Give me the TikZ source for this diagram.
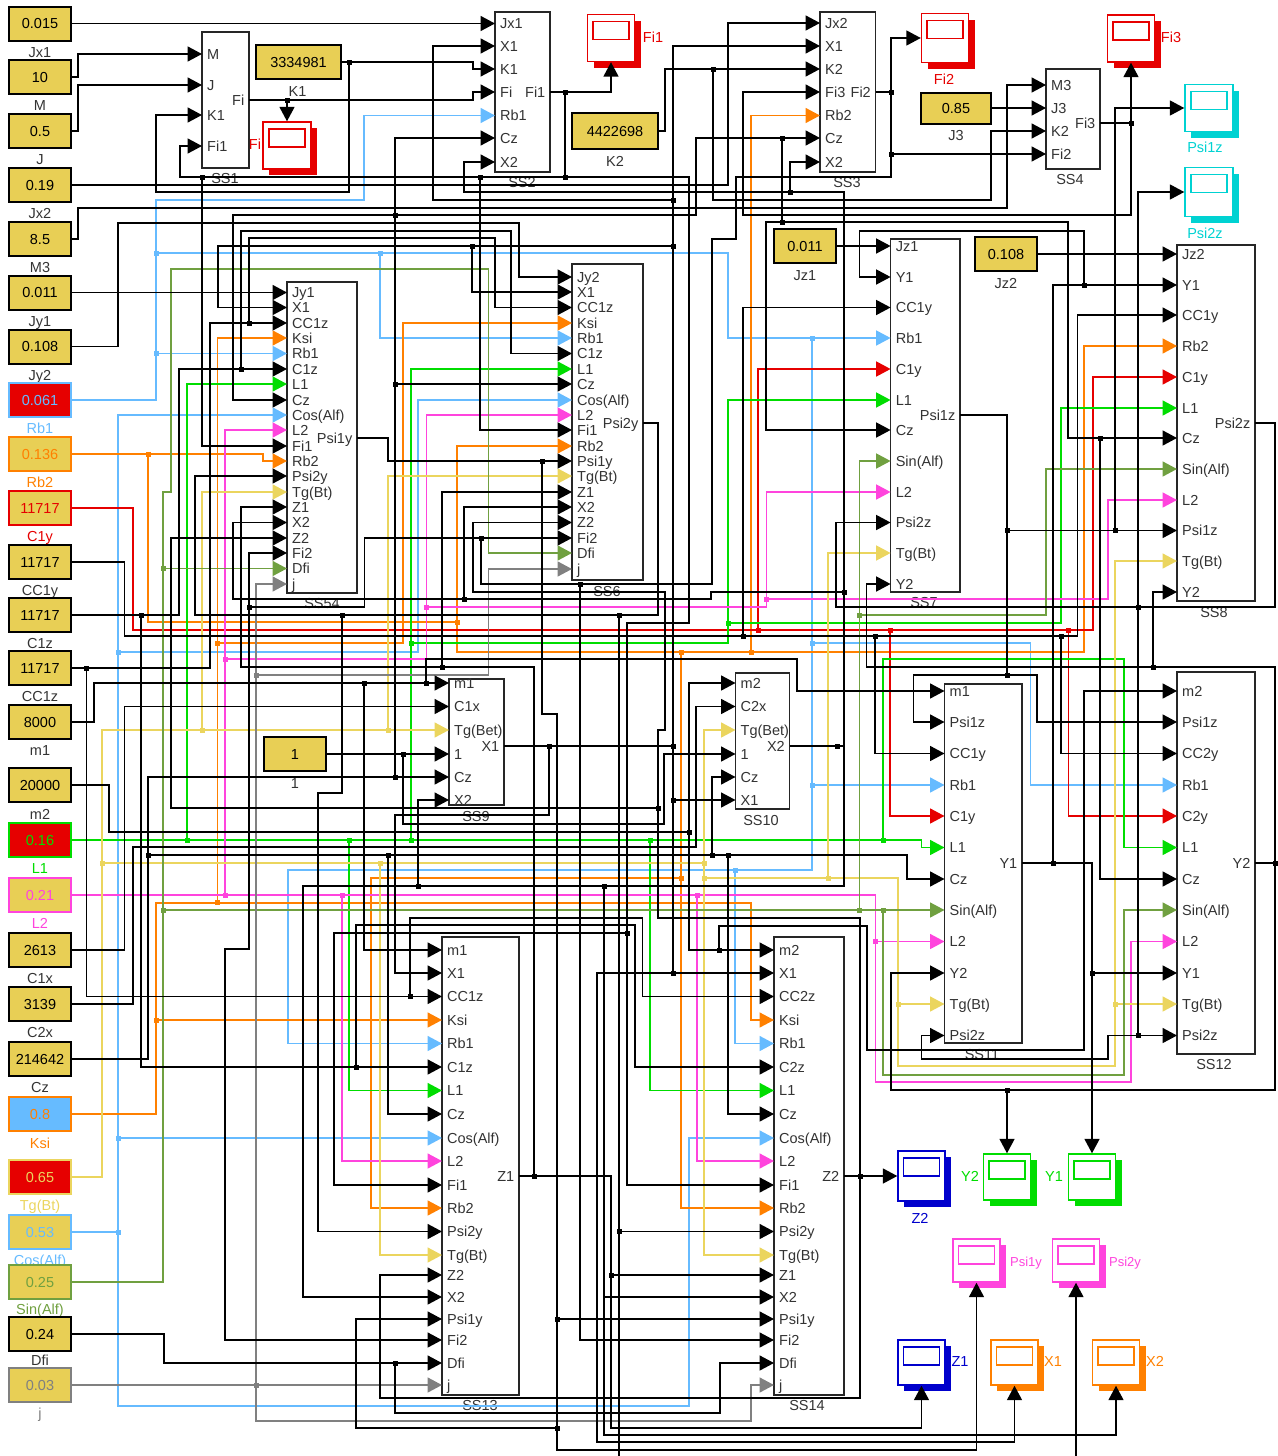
\documentclass[tikz,border=0pt]{standalone}
\usepackage{fontspec}
\setmainfont{Liberation Sans}
\usepackage{xcolor}
\usepackage{tikz}
\usetikzlibrary{arrows.meta,positioning,shadows,calc}
\definecolor{kfill}{HTML}{E8CF55}
\definecolor{kred}{HTML}{E60000}
\definecolor{kblue}{HTML}{66BBFF}
\definecolor{korange}{HTML}{FF8000}
\definecolor{kgreen}{HTML}{00DD00}
\definecolor{kmag}{HTML}{FF44DD}
\definecolor{kolive}{HTML}{70A040}
\definecolor{kgray}{HTML}{808080}
\definecolor{kyel}{HTML}{EBD55E}
\definecolor{kcyan}{HTML}{00D2D2}
\definecolor{kdblue}{HTML}{0000CC}
\tikzset{
    konst/.style={
        rectangle,
        draw=#1,
        fill=kfill,
        line width=2,
        inner sep=0,
        minimum width=62,
        minimum height=34,
        text height=10,
        text depth=0
    },
    konst/.default=black,
    kname/.style={inner sep=0, text height=10, text depth=3, text=#1},
    kname/.default=black!80,
    bloco/.style={rectangle, draw=black!85, line width=1.7, fill=white, inner sep=0},
    portin/.style={anchor=west, inner xsep=5, inner ysep=0, text height=10, text depth=0, text=black!80},
    portout/.style={anchor=east, inner xsep=4.5, inner ysep=0, text height=10, text depth=0, text=black!80},
    monitor/.style={
        rectangle,
        draw=#1,
        fill=white,
        line width=1.4,
        inner sep=0,
        minimum width=47,
        minimum height=47,
        drop shadow={shadow xshift=6pt, shadow yshift=-6pt, fill=#1, opacity=1},
        path picture={\draw[#1, line width=1.4] ($(path picture bounding box.north)+(-18,7)$) rectangle +(36,18);}
    },
    mname/.style={inner sep=0, text height=10, text depth=3, text=#1},
    link/.style={draw=#1, line width=1.7, -{Triangle[length=14.5pt,width=15pt]}},
    link/.default=black,
    tie/.style={draw=#1, line width=1.7},
    tie/.default=black,
    dot/.style={rectangle, fill=#1, inner sep=0, minimum size=5},
    dot/.default=black
}

\begin{document}
\begin{tikzpicture}[
        x=1pt, y=-1pt,
        every node/.style={font=\fontsize{14.5}{16}\selectfont}
    ]
    \useasboundingbox (0,0) rectangle (1277,1456);

    % constants down the left side
    \node[konst] (kJx1) at (40,23.5) {0.015};
    \node[kname, below=5.5pt of kJx1] (nJx1) {Jx1};
    \node[konst] (kM) at (40,77) {10};
    \node[kname, below=5.5pt of kM] (nM) {M};
    \node[konst] (kJ) at (40,131) {0.5};
    \node[kname, below=5.5pt of kJ] (nJ) {J};
    \node[konst] (kJx2) at (40,185) {0.19};
    \node[kname, below=5.5pt of kJx2] (nJx2) {Jx2};
    \node[konst] (kM3) at (40,239) {8.5};
    \node[kname, below=5.5pt of kM3] (nM3) {M3};
    \node[konst] (kJy1) at (40,292.5) {0.011};
    \node[kname, below=5.5pt of kJy1] (nJy1) {Jy1};
    \node[konst] (kJy2) at (40,346.5) {0.108};
    \node[kname, below=5.5pt of kJy2] (nJy2) {Jy2};
    \node[konst=kblue, fill=kred, text=kblue] (kRb1) at (40,400) {0.061};
    \node[kname=kblue, below=5.5pt of kRb1] (nRb1) {Rb1};
    \node[konst=korange, text=korange] (kRb2) at (40,454) {0.136};
    \node[kname=korange, below=5.5pt of kRb2] (nRb2) {Rb2};
    \node[konst=kred, text=kred] (kC1y) at (40,508) {11717};
    \node[kname=kred, below=5.5pt of kC1y] (nC1y) {C1y};
    \node[konst] (kCC1y) at (40,562) {11717};
    \node[kname, below=5.5pt of kCC1y] (nCC1y) {CC1y};
    \node[konst] (kC1z) at (40,615) {11717};
    \node[kname, below=5.5pt of kC1z] (nC1z) {C1z};
    \node[konst] (kCC1z) at (40,668) {11717};
    \node[kname, below=5.5pt of kCC1z] (nCC1z) {CC1z};
    \node[konst] (km1) at (40,722) {8000};
    \node[kname, below=5.5pt of km1] (nm1) {m1};
    \node[konst] (km2) at (40,785) {20000};
    \node[kname, below=6.5pt of km2] (nm2) {m2};
    \node[konst=kgreen, fill=kred, text=kgreen] (kL1) at (40,840) {0.16};
    \node[kname=kgreen, below=5.5pt of kL1] (nL1) {L1};
    \node[konst=kmag, text=kmag] (kL2) at (40,895) {0.21};
    \node[kname=kmag, below=5.5pt of kL2] (nL2) {L2};
    \node[konst] (kC1x) at (40,950) {2613};
    \node[kname, below=5.5pt of kC1x] (nC1x) {C1x};
    \node[konst] (kC2x) at (40,1004) {3139};
    \node[kname, below=5.5pt of kC2x] (nC2x) {C2x};
    \node[konst] (kCz) at (40,1059) {214642};
    \node[kname, below=5.5pt of kCz] (nCz) {Cz};
    \node[konst=korange, fill=kblue, text=korange] (kKsi) at (40,1114) {0.8};
    \node[kname=korange, below=6.5pt of kKsi] (nKsi) {Ksi};
    \node[konst=kyel, fill=kred, text=kyel] (kTg) at (40,1177) {0.65};
    \node[kname=kyel, below=5.5pt of kTg] (nTg) {Tg(Bt)};
    \node[konst=kblue, text=kblue] (kCos) at (40,1232) {0.53};
    \node[kname=kblue, below=5.5pt of kCos] (nCos) {Cos(Alf)};
    \node[konst=kolive, text=kolive] (kSin) at (40,1282) {0.25};
    \node[kname=kolive, below=4.5pt of kSin] (nSin) {Sin(Alf)};
    \node[konst] (kDfi) at (40,1334) {0.24};
    \node[kname, below=3.5pt of kDfi] (nDfi) {Dfi};
    \node[konst=kgray, text=kgray] (kj) at (40,1385) {0.03};
    \node[kname=kgray, below=5.5pt of kj] (nj) {j};

    % constants among the blocks
    \node[konst, minimum width=85] (vK1) at (298.5,62) {3334981};
    \node[kname, below=6pt of vK1, xshift=-1pt] (nK1) {K1};
    \node[konst, minimum width=86, minimum height=36] (vK2) at (615,131) {4422698};
    \node[kname, below=6pt of vK2] (nK2) {K2};
    \node[konst, minimum width=70, minimum height=31] (vJ3) at (956,108) {0.85};
    \node[kname, below=6pt of vJ3] (nJ3) {J3};
    \node[konst] (vJz1) at (805,246) {0.011};
    \node[kname, below=6pt of vJz1] (nJz1) {Jz1};
    \node[konst] (vJz2) at (1006,254) {0.108};
    \node[kname, below=6pt of vJz2] (nJz2) {Jz2};
    \node[konst] (vOne) at (295,754) {1};
    \node[kname, below=6pt of vOne] (nOne) {1};

    % blocks
    \node[bloco, minimum width=47, minimum height=136] (ss1) at (225.5,100) {};
    \node[kname] (nss1) at (225,180) {SS1};
    \node[bloco, minimum width=55, minimum height=160] (ss2) at (522.5,92) {};
    \node[kname] (nss2) at (522,184) {SS2};
    \node[bloco, minimum width=55.5, minimum height=160] (ss3) at (847.7,92) {};
    \node[kname] (nss3) at (847,184) {SS3};
    \node[bloco, minimum width=54, minimum height=100] (ss4) at (1073,119) {};
    \node[kname] (nss4) at (1070,181) {SS4};
    \node[bloco, minimum width=70, minimum height=311] (ss54) at (322,437.5) {};
    \node[kname] (nss54) at (322,605) {SS54};
    \node[bloco, minimum width=71, minimum height=316] (ss6) at (607.5,422) {};
    \node[kname] (nss6) at (607,593) {SS6};
    \node[bloco, minimum width=69.4, minimum height=353] (ss7) at (925.3,415.5) {};
    \node[kname] (nss7) at (924,604) {SS7};
    \node[bloco, minimum width=78, minimum height=356] (ss8) at (1216,423) {};
    \node[kname] (nss8) at (1214,614) {SS8};
    \node[bloco, minimum width=55, minimum height=126] (ss9) at (476.5,742) {};
    \node[kname] (nss9) at (476,818) {SS9};
    \node[bloco, minimum width=54, minimum height=136] (ss10) at (762.5,741) {};
    \node[kname] (nss10) at (761,822) {SS10};
    \node[bloco, minimum width=77.5, minimum height=359] (ss11) at (983.25,863.5) {};
    \node[kname] (nss11) at (982,1056) {SS11};
    \node[bloco, minimum width=78, minimum height=382] (ss12) at (1216,863) {};
    \node[kname] (nss12) at (1214,1066) {SS12};
    \node[bloco, minimum width=77, minimum height=458] (ss13) at (480.5,1166) {};
    \node[kname] (nss13) at (480,1407) {SS13};
    \node[bloco, minimum width=70, minimum height=458] (ss14) at (809,1166) {};
    \node[kname] (nss14) at (807,1407) {SS14};

    % ports of SS1 to SS4
    \node[portin] (ss1M) at (202,54) {M};
    \node[portin] (ss1J) at (202,85) {J};
    \node[portin] (ss1K1) at (202,115) {K1};
    \node[portin] (ss1Fi1) at (202,146) {Fi1};
    \node[portout] (ss1Fi) at (249,100) {Fi};
    \node[portin] (ss2Jx1) at (495,23.5) {Jx1};
    \node[portin] (ss2X1) at (495,46) {X1};
    \node[portin] (ss2K1) at (495,69) {K1};
    \node[portin] (ss2Fi) at (495,92) {Fi};
    \node[portin] (ss2Rb1) at (495,115.5) {Rb1};
    \node[portin] (ss2Cz) at (495,138) {Cz};
    \node[portin] (ss2X2) at (495,162) {X2};
    \node[portout] (ss2Fi1) at (550,92) {Fi1};
    \node[portin] (ss3Jx2) at (820,23) {Jx2};
    \node[portin] (ss3X1) at (820,46) {X1};
    \node[portin] (ss3K2) at (820,69) {K2};
    \node[portin] (ss3Fi3) at (820,92) {Fi3};
    \node[portin] (ss3Rb2) at (820,115.5) {Rb2};
    \node[portin] (ss3Cz) at (820,138) {Cz};
    \node[portin] (ss3X2) at (820,162) {X2};
    \node[portout] (ss3Fi2) at (875.5,92) {Fi2};
    \node[portin] (ss4M3) at (1046,85) {M3};
    \node[portin] (ss4J3) at (1046,108) {J3};
    \node[portin] (ss4K2) at (1046,131) {K2};
    \node[portin] (ss4Fi2) at (1046,154) {Fi2};
    \node[portout] (ss4Fi3) at (1100,123) {Fi3};

    % ports of SS54
    \node[portin] (ss54Jy1) at (287,292.5) {Jy1};
    \node[portin] (ss54X1) at (287,307.5) {X1};
    \node[portin] (ss54CC1z) at (287,323) {CC1z};
    \node[portin] (ss54Ksi) at (287,338) {Ksi};
    \node[portin] (ss54Rb1) at (287,353.5) {Rb1};
    \node[portin] (ss54C1z) at (287,369) {C1z};
    \node[portin] (ss54L1) at (287,384) {L1};
    \node[portin] (ss54Cz) at (287,400) {Cz};
    \node[portin] (ss54Cos) at (287,415) {Cos(Alf)};
    \node[portin] (ss54L2) at (287,430) {L2};
    \node[portin] (ss54Fi1) at (287,446) {Fi1};
    \node[portin] (ss54Rb2) at (287,461) {Rb2};
    \node[portin] (ss54Psi2y) at (287,476) {Psi2y};
    \node[portin] (ss54Tg) at (287,492) {Tg(Bt)};
    \node[portin] (ss54Z1) at (287,507) {Z1};
    \node[portin] (ss54X2) at (287,522.5) {X2};
    \node[portin] (ss54Z2) at (287,538) {Z2};
    \node[portin] (ss54Fi2) at (287,553) {Fi2};
    \node[portin] (ss54Dfi) at (287,568.5) {Dfi};
    \node[portin] (ss54j) at (287,584) {j};
    \node[portout] (ss54Psi1y) at (357,438) {Psi1y};

    % ports of SS6
    \node[portin] (ss6Jy2) at (572,277) {Jy2};
    \node[portin] (ss6X1) at (572,292) {X1};
    \node[portin] (ss6CC1z) at (572,307.5) {CC1z};
    \node[portin] (ss6Ksi) at (572,323) {Ksi};
    \node[portin] (ss6Rb1) at (572,338) {Rb1};
    \node[portin] (ss6C1z) at (572,353.5) {C1z};
    \node[portin] (ss6L1) at (572,369) {L1};
    \node[portin] (ss6Cz) at (572,384) {Cz};
    \node[portin] (ss6Cos) at (572,400) {Cos(Alf)};
    \node[portin] (ss6L2) at (572,415) {L2};
    \node[portin] (ss6Fi1) at (572,430) {Fi1};
    \node[portin] (ss6Rb2) at (572,446) {Rb2};
    \node[portin] (ss6Psi1y) at (572,461) {Psi1y};
    \node[portin] (ss6Tg) at (572,476) {Tg(Bt)};
    \node[portin] (ss6Z1) at (572,492) {Z1};
    \node[portin] (ss6X2) at (572,507) {X2};
    \node[portin] (ss6Z2) at (572,522.5) {Z2};
    \node[portin] (ss6Fi2) at (572,538) {Fi2};
    \node[portin] (ss6Dfi) at (572,553) {Dfi};
    \node[portin] (ss6j) at (572,569) {j};
    \node[portout] (ss6Psi2y) at (643,423) {Psi2y};

    % ports of SS7 and SS8
    \node[portin] (ss7Jz1) at (890.6,246) {Jz1};
    \node[portin] (ss7Y1) at (890.6,277) {Y1};
    \node[portin] (ss7CC1y) at (890.6,307.5) {CC1y};
    \node[portin] (ss7Rb1) at (890.6,338) {Rb1};
    \node[portin] (ss7C1y) at (890.6,369) {C1y};
    \node[portin] (ss7L1) at (890.6,400) {L1};
    \node[portin] (ss7Cz) at (890.6,430) {Cz};
    \node[portin] (ss7Sin) at (890.6,461) {Sin(Alf)};
    \node[portin] (ss7L2) at (890.6,492) {L2};
    \node[portin] (ss7Psi2z) at (890.6,522.5) {Psi2z};
    \node[portin] (ss7Tg) at (890.6,553) {Tg(Bt)};
    \node[portin] (ss7Y2) at (890.6,584) {Y2};
    \node[portout] (ss7Psi1z) at (960,415) {Psi1z};
    \node[portin] (ss8Jz2) at (1177,254) {Jz2};
    \node[portin] (ss8Y1) at (1177,285) {Y1};
    \node[portin] (ss8CC1y) at (1177,315) {CC1y};
    \node[portin] (ss8Rb2) at (1177,346) {Rb2};
    \node[portin] (ss8C1y) at (1177,377) {C1y};
    \node[portin] (ss8L1) at (1177,408) {L1};
    \node[portin] (ss8Cz) at (1177,438) {Cz};
    \node[portin] (ss8Sin) at (1177,469) {Sin(Alf)};
    \node[portin] (ss8L2) at (1177,500) {L2};
    \node[portin] (ss8Psi1z) at (1177,530.5) {Psi1z};
    \node[portin] (ss8Tg) at (1177,561) {Tg(Bt)};
    \node[portin] (ss8Y2) at (1177,592) {Y2};
    \node[portout] (ss8Psi2z) at (1255,423) {Psi2z};

    % ports of SS9 and SS10
    \node[portin] (ss9m1) at (449,683) {m1};
    \node[portin] (ss9C1x) at (449,706.5) {C1x};
    \node[portin] (ss9Tg) at (449,730) {Tg(Bet)};
    \node[portin] (ss9One) at (449,754) {1};
    \node[portin] (ss9Cz) at (449,777) {Cz};
    \node[portin] (ss9X2) at (449,800) {X2};
    \node[portout] (ss9X1) at (504,746) {X1};
    \node[portin] (ss10m2) at (735.5,683) {m2};
    \node[portin] (ss10C2x) at (735.5,706.5) {C2x};
    \node[portin] (ss10Tg) at (735.5,730) {Tg(Bet)};
    \node[portin] (ss10One) at (735.5,754) {1};
    \node[portin] (ss10Cz) at (735.5,777) {Cz};
    \node[portin] (ss10X1) at (735.5,800) {X1};
    \node[portout] (ss10X2) at (789.5,746) {X2};

    % ports of SS11 and SS12
    \node[portin] (ss11m1) at (944.5,691) {m1};
    \node[portin] (ss11Psi1z) at (944.5,722) {Psi1z};
    \node[portin] (ss11CC1y) at (944.5,753.5) {CC1y};
    \node[portin] (ss11Rb1) at (944.5,785) {Rb1};
    \node[portin] (ss11C1y) at (944.5,816) {C1y};
    \node[portin] (ss11L1) at (944.5,847.5) {L1};
    \node[portin] (ss11Cz) at (944.5,879) {Cz};
    \node[portin] (ss11Sin) at (944.5,910) {Sin(Alf)};
    \node[portin] (ss11L2) at (944.5,941.5) {L2};
    \node[portin] (ss11Y2) at (944.5,973) {Y2};
    \node[portin] (ss11Tg) at (944.5,1004) {Tg(Bt)};
    \node[portin] (ss11Psi2z) at (944.5,1035.5) {Psi2z};
    \node[portout] (ss11Y1) at (1022,863) {Y1};
    \node[portin] (ss12m2) at (1177,691) {m2};
    \node[portin] (ss12Psi1z) at (1177,722) {Psi1z};
    \node[portin] (ss12CC2y) at (1177,753.5) {CC2y};
    \node[portin] (ss12Rb1) at (1177,785) {Rb1};
    \node[portin] (ss12C2y) at (1177,816) {C2y};
    \node[portin] (ss12L1) at (1177,847.5) {L1};
    \node[portin] (ss12Cz) at (1177,879) {Cz};
    \node[portin] (ss12Sin) at (1177,910) {Sin(Alf)};
    \node[portin] (ss12L2) at (1177,941.5) {L2};
    \node[portin] (ss12Y1) at (1177,973) {Y1};
    \node[portin] (ss12Tg) at (1177,1004) {Tg(Bt)};
    \node[portin] (ss12Psi2z) at (1177,1035.5) {Psi2z};
    \node[portout] (ss12Y2) at (1255,863) {Y2};

    % ports of SS13 and SS14
    \node[portin] (ss13m1) at (442,950) {m1};
    \node[portin] (ss13X1) at (442,973) {X1};
    \node[portin] (ss13CC1z) at (442,996.5) {CC1z};
    \node[portin] (ss13Ksi) at (442,1020) {Ksi};
    \node[portin] (ss13Rb1) at (442,1043.5) {Rb1};
    \node[portin] (ss13C1z) at (442,1067) {C1z};
    \node[portin] (ss13L1) at (442,1090.5) {L1};
    \node[portin] (ss13Cz) at (442,1114) {Cz};
    \node[portin] (ss13Cos) at (442,1138) {Cos(Alf)};
    \node[portin] (ss13L2) at (442,1161) {L2};
    \node[portin] (ss13Fi1) at (442,1185) {Fi1};
    \node[portin] (ss13Rb2) at (442,1208) {Rb2};
    \node[portin] (ss13Psi2y) at (442,1231.5) {Psi2y};
    \node[portin] (ss13Tg) at (442,1255) {Tg(Bt)};
    \node[portin] (ss13Z2) at (442,1275) {Z2};
    \node[portin] (ss13X2) at (442,1297) {X2};
    \node[portin] (ss13Psi1y) at (442,1319) {Psi1y};
    \node[portin] (ss13Fi2) at (442,1340) {Fi2};
    \node[portin] (ss13Dfi) at (442,1363) {Dfi};
    \node[portin] (ss13j) at (442,1385) {j};
    \node[portout] (ss13Z1) at (519,1176) {Z1};
    \node[portin] (ss14m2) at (774,950) {m2};
    \node[portin] (ss14X1) at (774,973) {X1};
    \node[portin] (ss14CC2z) at (774,996.5) {CC2z};
    \node[portin] (ss14Ksi) at (774,1020) {Ksi};
    \node[portin] (ss14Rb1) at (774,1043.5) {Rb1};
    \node[portin] (ss14C2z) at (774,1067) {C2z};
    \node[portin] (ss14L1) at (774,1090.5) {L1};
    \node[portin] (ss14Cz) at (774,1114) {Cz};
    \node[portin] (ss14Cos) at (774,1138) {Cos(Alf)};
    \node[portin] (ss14L2) at (774,1161) {L2};
    \node[portin] (ss14Fi1) at (774,1185) {Fi1};
    \node[portin] (ss14Rb2) at (774,1208) {Rb2};
    \node[portin] (ss14Psi2y) at (774,1231.5) {Psi2y};
    \node[portin] (ss14Tg) at (774,1255) {Tg(Bt)};
    \node[portin] (ss14Z1) at (774,1275) {Z1};
    \node[portin] (ss14X2) at (774,1297) {X2};
    \node[portin] (ss14Psi1y) at (774,1319) {Psi1y};
    \node[portin] (ss14Fi2) at (774,1340) {Fi2};
    \node[portin] (ss14Dfi) at (774,1363) {Dfi};
    \node[portin] (ss14j) at (774,1385) {j};
    \node[portout] (ss14Z2) at (844,1176) {Z2};

    % scopes
    \node[monitor=kred, minimum width=48] (monFi) at (287,145.5) {};
    \node[mname=kred] (nmonFi) at (255,146) {Fi};
    \node[monitor=kred] (monFi1) at (611,38) {};
    \node[mname=kred] (nmonFi1) at (653,39) {Fi1};
    \node[monitor=kred, minimum height=49] (monFi2) at (945,38) {};
    \node[mname=kred] (nmonFi2) at (944,81) {Fi2};
    \node[monitor=kred] (monFi3) at (1131,38.5) {};
    \node[mname=kred] (nmonFi3) at (1171,39) {Fi3};
    \node[monitor=kcyan, minimum width=48] (monPsi1z) at (1209,108) {};
    \node[mname=kcyan] (nmonPsi1z) at (1205,149) {Psi1z};
    \node[monitor=kcyan, minimum width=48, minimum height=49] (monPsi2z) at (1209,192) {};
    \node[mname=kcyan] (nmonPsi2z) at (1205,235) {Psi2z};
    \node[monitor=kdblue, minimum height=50] (monZ2) at (921.5,1176) {};
    \node[mname=kdblue] (nmonZ2) at (920,1220) {Z2};
    \node[monitor=kgreen, minimum height=46] (monY2) at (1007,1177) {};
    \node[mname=kgreen] (nmonY2) at (970,1178) {Y2};
    \node[monitor=kgreen, minimum height=46] (monY1) at (1092,1177) {};
    \node[mname=kgreen] (nmonY1) at (1054,1178) {Y1};
    \node[monitor=kmag, minimum height=43] (monPsi1y) at (976.5,1260.5) {};
    \node[mname=kmag, font=\fontsize{13}{15}\selectfont] (nmonPsi1y) at (1026,1263) {Psi1y};
    \node[monitor=kmag, minimum height=43] (monPsi2y) at (1076,1260.5) {};
    \node[mname=kmag, font=\fontsize{13}{15}\selectfont] (nmonPsi2y) at (1125,1263) {Psi2y};
    \node[monitor=kdblue, minimum height=45] (monZ1) at (921.5,1362.5) {};
    \node[mname=kdblue] (nmonZ1) at (960,1363) {Z1};
    \node[monitor=korange, minimum height=45] (monX1) at (1014.5,1362.5) {};
    \node[mname=korange] (nmonX1) at (1053,1363) {X1};
    \node[monitor=korange, minimum height=45] (monX2) at (1116,1362.5) {};
    \node[mname=korange] (nmonX2) at (1155,1363) {X2};

    % free ends at the lower edge
    \coordinate (edgeA) at (619,1456);
    \coordinate (edgeB) at (1076,1456);

    % junctions
    \node[dot] (dK1) at (349,62) {};
    \node[dot] (dFi) at (287,100) {};
    \node[dot] (dFi1a) at (565,92) {};
    \node[dot] (dFi1b) at (565,177) {};
    \node[dot] (dFi1c) at (202,177) {};
    \node[dot] (dFi1d) at (480,177) {};
    \node[dot] (dFi1e) at (627,933) {};
    \node[dot] (dK2) at (713,69) {};
    \node[dot] (dX2a) at (790,192) {};
    \node[dot] (dX2b) at (844,592) {};
    \node[dot] (dX2c) at (464,599) {};
    \node[dot] (dX2d) at (604,886) {};
    \node[dot] (dX2e) at (418,886) {};
    \node[dot] (dX2f) at (837,746) {};
    \node[dot] (dX1a) at (549,746) {};
    \node[dot] (dX1b) at (673,746) {};
    \node[dot] (dX1c) at (673,200) {};
    \node[dot] (dX1d) at (673,246) {};
    \node[dot] (dX1e) at (472,246) {};
    \node[dot] (dX1f) at (673,800) {};
    \node[dot] (dX1g) at (673,973) {};
    \node[dot] (dCza) at (395,777) {};
    \node[dot] (dCzb) at (395,215) {};
    \node[dot] (dCzc) at (395,384) {};
    \node[dot] (dCzd) at (148,855) {};
    \node[dot] (dCze) at (388,855) {};
    \node[dot] (dCzf) at (712,855) {};
    \node[dot] (dCzg) at (728,855) {};
    \node[dot] (dCzh) at (782,138) {};
    \node[dot] (dCzi) at (782,222) {};
    \node[dot] (dCzj) at (1100,438) {};
    \node[dot] (dC1za) at (241,369) {};
    \node[dot] (dC1zb) at (141,615) {};
    \node[dot] (dC1zc) at (356,1067) {};
    \node[dot] (dCCa) at (249,323) {};
    \node[dot] (dCCb) at (86.5,668) {};
    \node[dot] (dCCc) at (410,996.5) {};
    \node[dot] (dPa) at (619,615) {};
    \node[dot] (dPb) at (342,615) {};
    \node[dot] (dPc) at (619,1231.5) {};
    \node[dot] (dQa) at (542,461) {};
    \node[dot] (dQb) at (557,1319) {};
    \node[dot] (dQc) at (557,1428) {};
    \node[dot] (dZa) at (534,1176) {};
    \node[dot] (dZb) at (442,667) {};
    \node[dot] (dZc) at (611,1275) {};
    \node[dot] (dYa) at (860,1176) {};
    \node[dot] (dYb) at (658,808) {};
    \node[dot] (dRa) at (891,92) {};
    \node[dot] (dRb) at (891,154) {};
    \node[dot] (dRc) at (481,538) {};
    \node[dot] (dRd) at (580,584) {};
    \node[dot] (dRe) at (249,607) {};
    \node[dot] (dSa) at (1131,123) {};
    \node[dot] (dTa) at (1007,530.5) {};
    \node[dot] (dTb) at (1115,530.5) {};
    \node[dot] (dTc) at (1007,675) {};
    \node[dot] (dUa) at (1138,607) {};
    \node[dot] (dUb) at (1138,1035.5) {};
    \node[dot] (dVa) at (1053,863) {};
    \node[dot] (dVb) at (1092,973) {};
    \node[dot] (dVc) at (1084,285) {};
    \node[dot] (dWa) at (1275,863) {};
    \node[dot] (dWb) at (1153,667) {};
    \node[dot] (dWc) at (1007,1090) {};
    \node[dot] (dXa) at (364,683) {};
    \node[dot] (dXb) at (426,683) {};
    \node[dot] (dNa) at (689,832) {};
    \node[dot] (dNb) at (719,950) {};
    \node[dot] (dOa) at (403,754) {};
    \node[dot] (dAa) at (743,636) {};
    \node[dot] (dAb) at (875,636) {};
    \node[dot] (dAc) at (1061,636) {};
    \node[dot] (dMa) at (395,1363) {};
    \node[dot=kblue] (dBa) at (156,253) {};
    \node[dot=kblue] (dBb) at (380,253) {};
    \node[dot=kblue] (dBc) at (156,353.5) {};
    \node[dot=kblue] (dBd) at (812,338) {};
    \node[dot=kblue] (dBe) at (812,643) {};
    \node[dot=kblue] (dBf) at (812,785) {};
    \node[dot=kblue] (dBg) at (735,870) {};
    \node[dot=kblue] (dJa) at (118,1232) {};
    \node[dot=kblue] (dJb) at (118,1138) {};
    \node[dot=kblue] (dJc) at (118,652) {};
    \node[dot=korange] (dCa) at (148,454) {};
    \node[dot=korange] (dCb) at (457,622) {};
    \node[dot=korange] (dCc) at (681,652) {};
    \node[dot=korange] (dCd) at (751,652) {};
    \node[dot=korange] (dCe) at (681,878) {};
    \node[dot=korange] (dDa) at (217.5,902.7) {};
    \node[dot=korange] (dDb) at (217.5,643) {};
    \node[dot=korange] (dDc) at (156,1020) {};
    \node[dot=kred] (dEa) at (758,630) {};
    \node[dot=kred] (dEb) at (890,630) {};
    \node[dot=kred] (dEc) at (1068.5,630) {};
    \node[dot=kgreen] (dGa) at (187,840) {};
    \node[dot=kgreen] (dGb) at (349,840) {};
    \node[dot=kgreen] (dGc) at (411,840) {};
    \node[dot=kgreen] (dGd) at (650,840) {};
    \node[dot=kgreen] (dGe) at (883,840) {};
    \node[dot=kgreen] (dGf) at (411,643) {};
    \node[dot=kgreen] (dGg) at (728,623) {};
    \node[dot=kmag] (dHa) at (225,895) {};
    \node[dot=kmag] (dHb) at (342,895) {};
    \node[dot=kmag] (dHc) at (697,895) {};
    \node[dot=kmag] (dHd) at (875.5,941.5) {};
    \node[dot=kmag] (dHe) at (225,659) {};
    \node[dot=kmag] (dHf) at (426.5,607) {};
    \node[dot=kmag] (dHg) at (766.5,599) {};
    \node[dot=kyel] (dIa) at (202,730) {};
    \node[dot=kyel] (dIb) at (388,730) {};
    \node[dot=kyel] (dIc) at (102,863) {};
    \node[dot=kyel] (dId) at (380,863) {};
    \node[dot=kyel] (dIe) at (704,863) {};
    \node[dot=kyel] (dIf) at (704,878) {};
    \node[dot=kyel] (dIg) at (828,878) {};
    \node[dot=kyel] (dIh) at (898,1004) {};
    \node[dot=kyel] (dIi) at (1115,1004) {};
    \node[dot=kolive] (dKa) at (163,910) {};
    \node[dot=kolive] (dKb) at (163,568.5) {};
    \node[dot=kolive] (dKc) at (859.6,910) {};
    \node[dot=kolive] (dKd) at (883,910) {};
    \node[dot=kolive] (dKe) at (859.6,615) {};
    \node[dot=kgray] (dLa) at (256,1385) {};
    \node[dot=kgray] (dLb) at (256,675) {};

    % coloured nets
    \draw[link=kblue] (kRb1.east) -| (156,200) -| (364,115.5) |- (ss2Rb1.west);
    \draw[link=kblue] (dBa.center) -| (728,338) |- (ss7Rb1.west);
    \draw[link=kblue] (dBb.center) |- (ss6Rb1.west);
    \draw[link=kblue] (dBc.center) |- (ss54Rb1.west);
    \draw[link=kblue] (dBe.center) -| (1030.6,785) |- (ss12Rb1.west);
    \draw[link=kblue] (dBf.center) |- (ss11Rb1.west);
    \draw[link=kblue] (dBd.center) |- (288,870) |- (ss13Rb1.west);
    \draw[link=kblue] (dBg.center) |- (ss14Rb1.west);
    \draw[tie=kblue] (kCos.east) -- (dJa.center);
    \draw[link=kblue] (dJa.center) |- (ss54Cos.west);
    \draw[link=kblue] (dJb.center) |- (ss13Cos.west);
    \draw[link=kblue] (dJc.center) -| (418,400) |- (ss6Cos.west);
    \draw[link=kblue] (dJa.center) |- (689,1406) |- (ss14Cos.west);

    \draw[link=korange] (kRb2.east) -| (263,461) |- (ss54Rb2.west);
    \draw[tie=korange] (dCa.center) |- (dCb.center);
    \draw[link=korange] (dCb.center) |- (ss6Rb2.west);
    \draw[link=korange] (dCb.center) |- (1084,652) |- (ss8Rb2.west);
    \draw[link=korange] (dCd.center) |- (ss3Rb2.west);
    \draw[link=korange] (dCc.center) |- (ss14Rb2.west);
    \draw[link=korange] (dCe.center) -| (371,1208) |- (ss13Rb2.west);
    \draw[link=korange] (kKsi.east) -| (156,902.7) -| (751,1020) |- (ss14Ksi.west);
    \draw[link=korange] (dDa.center) |- (ss54Ksi.west);
    \draw[link=korange] (dDb.center) -| (403,323) |- (ss6Ksi.west);
    \draw[link=korange] (dDc.center) |- (ss13Ksi.west);

    \draw[link=kred] (kC1y.east) -| (133,630) -| (1093,377) |- (ss8C1y.west);
    \draw[link=kred] (dEa.center) |- (ss7C1y.west);
    \draw[link=kred] (dEb.center) |- (ss11C1y.west);
    \draw[link=kred] (dEc.center) |- (ss12C2y.west);

    \draw[link=kgreen] (kL1.east) -| (921.6,847.5) |- (ss11L1.west);
    \draw[link=kgreen] (dGa.center) |- (ss54L1.west);
    \draw[link=kgreen] (dGb.center) |- (ss13L1.west);
    \draw[link=kgreen] (dGc.center) |- (ss6L1.west);
    \draw[link=kgreen] (dGd.center) |- (ss14L1.west);
    \draw[link=kgreen] (dGe.center) |- (1123.7,659) |- (ss12L1.west);
    \draw[link=kgreen] (dGf.center) -| (728,400) |- (ss7L1.west);
    \draw[link=kgreen] (dGg.center) -| (1061,408) |- (ss8L1.west);

    \draw[link=kmag] (kL2.east) -| (875.5,941.5) |- (ss11L2.west);
    \draw[link=kmag] (dHd.center) |- (1131,1082) |- (ss12L2.west);
    \draw[link=kmag] (dHa.center) |- (ss54L2.west);
    \draw[link=kmag] (dHb.center) |- (ss13L2.west);
    \draw[link=kmag] (dHc.center) |- (ss14L2.west);
    \draw[link=kmag] (dHe.center) -| (426.5,415) |- (ss6L2.west);
    \draw[link=kmag] (dHf.center) -| (766.5,492) |- (ss7L2.west);
    \draw[link=kmag] (dHg.center) -| (1108,500) |- (ss8L2.west);

    \draw[link=kyel] (kTg.east) -| (102,730) |- (ss9Tg.west);
    \draw[link=kyel] (dIa.center) |- (ss54Tg.west);
    \draw[link=kyel] (dIb.center) |- (ss6Tg.west);
    \draw[tie=kyel] (dIc.center) -- (dIe.center);
    \draw[link=kyel] (dId.center) |- (ss13Tg.west);
    \draw[link=kyel] (dIe.center) |- (ss10Tg.west);
    \draw[link=kyel] (dIe.center) |- (ss14Tg.west);
    \draw[link=kyel] (dIf.center) -| (898,1066) -| (1115,561) |- (ss8Tg.west);
    \draw[link=kyel] (dIg.center) |- (ss7Tg.west);
    \draw[link=kyel] (dIh.center) -- (ss11Tg.west);
    \draw[link=kyel] (dIi.center) -- (ss12Tg.west);

    \draw[tie=kolive] (kSin.east) -| (dKa.center);
    \draw[link=kolive] (dKa.center) -- (ss11Sin.west);
    \draw[link=kolive] (dKb.center) -- (ss54Dfi.west);
    \draw[link=kolive] (dKa.center) |- (171,492) |- (488.6,269) |- (ss6Dfi.west);
    \draw[link=kolive] (dKc.center) |- (ss7Sin.west);
    \draw[link=kolive] (dKe.center) -| (1046,469) |- (ss8Sin.west);
    \draw[link=kolive] (dKd.center) |- (1123.7,1075) |- (ss12Sin.west);

    \draw[link=kgray] (kj.east) -- (ss13j.west);
    \draw[link=kgray] (dLa.center) |- (ss54j.west);
    \draw[link=kgray] (dLb.center) -| (488.6,569) |- (ss6j.west);
    \draw[link=kgray] (dLa.center) |- (751,1421) |- (ss14j.west);

    % black nets
    \draw[link] (kJx1.east) -- (ss2Jx1.west);
    \draw[link] (kM.east) -| (78,54) |- (ss1M.west);
    \draw[link] (kJ.east) -| (78,85) |- (ss1J.west);
    \draw[link] (kJx2.east) -| (728,23) |- (ss3Jx2.west);
    \draw[link] (kM3.east) -| (78,208) -| (1007,85) |- (ss4M3.west);
    \draw[link] (kJy1.east) -- (ss54Jy1.west);
    \draw[link] (kJy2.east) -| (118,223) -| (519,277) |- (ss6Jy2.west);
    \draw[tie] (vK1.east) -- (dK1.center);
    \draw[link] (dK1.center) -| (473,69) |- (ss2K1.west);
    \draw[link] (dK1.center) |- (156,192) |- (ss1K1.west);
    \draw[link] (ss1Fi.east) -| (473,92) |- (ss2Fi.west);
    \draw[link] (dFi.center) -- (monFi.north);
    \draw[link] (ss2Fi1.east) -| (monFi1.south);
    \draw[tie] (dFi1a.center) -- (dFi1b.center);
    \draw[link] (dFi1b.center) -| (180,146) |- (ss1Fi1.west);
    \draw[link] (dFi1c.center) |- (ss54Fi1.west);
    \draw[link] (dFi1d.center) |- (ss6Fi1.west);
    \draw[tie] (dFi1b.center) -| (689,623) -| (dFi1e.center);
    \draw[link] (dFi1e.center) -| (334,1185) |- (ss13Fi1.west);
    \draw[link] (dFi1e.center) |- (ss14Fi1.west);
    \draw[link] (vK2.east) -| (665,69) |- (ss3K2.west);
    \draw[link] (dK2.center) |- (991,200) |- (ss4K2.west);
    \draw[link] (vJ3.east) -- (ss4J3.west);
    \draw[link] (vJz1.east) -- (ss7Jz1.west);
    \draw[link] (vJz2.east) -- (ss8Jz2.west);
    \draw[link] (ss10X2.east) -| (844,192) -| (464,162) |- (ss2X2.west);
    \draw[link] (dX2a.center) |- (ss3X2.west);
    \draw[link] (dX2f.center) -| (844,886) -| (303,1297) |- (ss13X2.west);
    \draw[link] (dX2d.center) |- (ss14X2.west);
    \draw[link] (dX2d.center) |- (1116,1435) -| (monX2.south);
    \draw[link] (dX2e.center) |- (ss9X2.west);
    \draw[link] (dX2b.center) -| (711,599) -| (233,522.5) |- (ss54X2.west);
    \draw[link] (dX2c.center) |- (ss6X2.west);
    \draw[tie] (ss9X1.east) -- (dX1b.center);
    \draw[link] (dX1b.center) |- (433,200) |- (ss2X1.west);
    \draw[link] (dX1c.center) |- (ss3X1.west);
    \draw[link] (dX1d.center) -| (218,307.5) |- (ss54X1.west);
    \draw[link] (dX1e.center) |- (ss6X1.west);
    \draw[link] (dX1f.center) |- (ss10X1.west);
    \draw[link] (dX1b.center) |- (ss14X1.west);
    \draw[link] (dX1a.center) |- (395,815) |- (ss13X1.west);
    \draw[link] (dX1g.center) -| (597,1442) -| (monX1.south);
    \draw[link] (kCz.east) -| (148,777) |- (ss9Cz.west);
    \draw[link] (dCza.center) |- (ss2Cz.west);
    \draw[link] (dCzc.center) |- (ss6Cz.west);
    \draw[link] (dCzb.center) -| (233,400) |- (ss54Cz.west);
    \draw[link] (dCzb.center) -| (696,138) |- (ss3Cz.west);
    \draw[tie] (dCzh.center) -- (dCzi.center);
    \draw[link] (dCzi.center) -| (766,430) |- (ss7Cz.west);
    \draw[link] (dCzi.center) -| (1068,438) |- (ss8Cz.west);
    \draw[link] (dCzj.center) |- (ss12Cz.west);
    \draw[link] (dCzd.center) -| (907,879) |- (ss11Cz.west);
    \draw[link] (dCze.center) |- (ss13Cz.west);
    \draw[link] (dCzf.center) |- (ss10Cz.west);
    \draw[link] (dCzg.center) |- (ss14Cz.west);
    \draw[link] (kC1z.east) -| (179,369) |- (ss54C1z.west);
    \draw[link] (dC1za.center) |- (511,230.7) |- (ss6C1z.west);
    \draw[link] (dC1zb.center) |- (ss13C1z.west);
    \draw[link] (dC1zc.center) |- (635,925) |- (ss14C2z.west);
    \draw[link] (kCC1z.east) -| (210,323) |- (ss54CC1z.west);
    \draw[link] (dCCa.center) |- (495,238) |- (ss6CC1z.west);
    \draw[link] (dCCb.center) |- (ss13CC1z.west);
    \draw[link] (dCCc.center) |- (642.5,918) |- (ss14CC2z.west);
    \draw[link] (kCC1y.east) -| (124.5,636) -| (1077.5,315) |- (ss8CC1y.west);
    \draw[link] (dAa.center) |- (ss7CC1y.west);
    \draw[link] (dAb.center) |- (ss11CC1y.west);
    \draw[link] (dAc.center) |- (ss12CC2y.west);
    \draw[link] (ss6Psi2y.east) -| (658,615) -| (195,476) |- (ss54Psi2y.west);
    \draw[link] (dPb.center) |- (318,793) |- (ss13Psi2y.west);
    \draw[link] (dPc.center) |- (ss14Psi2y.west);
    \draw[tie] (dPa.center) -- (edgeA);
    \draw[link] (edgeB) -- (monPsi2y.south);
    \draw[link] (ss54Psi1y.east) -| (388,461) |- (ss6Psi1y.west);
    \draw[link] (dQa.center) |- (557,714) |- (976.5,1450) -| (monPsi1y.south);
    \draw[link] (dQb.center) |- (ss14Psi1y.west);
    \draw[link] (dQc.center) -| (356,1319) |- (ss13Psi1y.west);
    \draw[link] (ss13Z1.east) -| (611,1428) -| (monZ1.south);
    \draw[link] (dZa.center) |- (241,667) |- (ss54Z1.west);
    \draw[link] (dZb.center) |- (ss6Z1.west);
    \draw[link] (dZc.center) |- (ss14Z1.west);
    \draw[link] (ss14Z2.east) -- (monZ2.west);
    \draw[link] (dYa.center) |- (658,918) |- (665,730) |- (473,592) |- (ss6Z2.west);
    \draw[link] (dYa.center) |- (380,1398) |- (ss13Z2.west);
    \draw[link] (dYb.center) -| (171,538) |- (ss54Z2.west);
    \draw[link] (ss3Fi2.east) -| (891,38) |- (monFi2.west);
    \draw[link] (dRb.center) |- (ss4Fi2.west);
    \draw[tie] (dRa.center) |- (736,177) |- (712,239) |- (481,584) -- (dRc.center);
    \draw[link] (dRc.center) -- (ss6Fi2.west);
    \draw[tie] (dRc.center) -| (364.5,607) -- (dRe.center);
    \draw[link] (dRe.center) |- (ss54Fi2.west);
    \draw[link] (dRe.center) |- (225,949) |- (ss13Fi2.west);
    \draw[link] (dRd.center) |- (ss14Fi2.west);
    \draw[tie] (ss4Fi3.east) -- (dSa.center);
    \draw[link] (dSa.center) -- (monFi3.south);
    \draw[link] (dSa.center) |- (743,215) |- (ss3Fi3.west);
    \draw[link] (ss7Psi1z.east) -| (1007,530.5) |- (ss8Psi1z.west);
    \draw[link] (dTb.center) |- (monPsi1z.west);
    \draw[tie] (dTa.center) -- (dTc.center);
    \draw[link] (dTc.center) -| (913.5,722) |- (ss11Psi1z.west);
    \draw[link] (dTc.center) -| (1037,722) |- (ss12Psi1z.west);
    \draw[link] (ss8Psi2z.east) -| (1275,607) -| (836,522.5) |- (ss7Psi2z.west);
    \draw[link] (dUa.center) |- (monPsi2z.west);
    \draw[link] (dUa.center) |- (ss12Psi2z.west);
    \draw[link] (dUb.center) -| (1108,1059) -| (921.6,1035.5) |- (ss11Psi2z.west);
    \draw[link] (ss11Y1.east) -| (monY1.north);
    \draw[link] (dVb.center) -- (ss12Y1.west);
    \draw[link] (dVa.center) |- (ss8Y1.west);
    \draw[link] (dVc.center) |- (859.6,230.7) |- (ss7Y1.west);
    \draw[tie] (ss12Y2.east) -- (dWa.center);
    \draw[link] (dWa.center) |- (866.5,667) |- (ss7Y2.west);
    \draw[link] (dWb.center) |- (ss8Y2.west);
    \draw[link] (dWa.center) |- (891,1090) |- (ss11Y2.west);
    \draw[link] (dWc.center) -- (monY2.north);
    \draw[link] (km1.east) -| (94,683) |- (ss9m1.west);
    \draw[link] (dXb.center) |- (797,659) |- (ss11m1.west);
    \draw[link] (dXa.center) |- (ss13m1.west);
    \draw[tie] (km2.east) -| (109,832) -- (dNa.center);
    \draw[link] (dNa.center) |- (ss10m2.west);
    \draw[link] (dNa.center) |- (ss14m2.west);
    \draw[link] (dNb.center) |- (867,926) |- (1084,1050) |- (ss12m2.west);
    \draw[link] (vOne.east) -- (ss9One.west);
    \draw[link] (dOa.center) |- (664,824) |- (ss10One.west);
    \draw[link] (kC1x.east) -| (124.5,706.5) |- (ss9C1x.west);
    \draw[link] (kC2x.east) -| (133,847) -| (696,706.5) |- (ss10C2x.west);
    \draw[link] (kDfi.east) -| (164,1363) |- (ss13Dfi.west);
    \draw[link] (dMa.center) |- (720,1413) |- (ss14Dfi.west);
\end{tikzpicture}
\end{document}
